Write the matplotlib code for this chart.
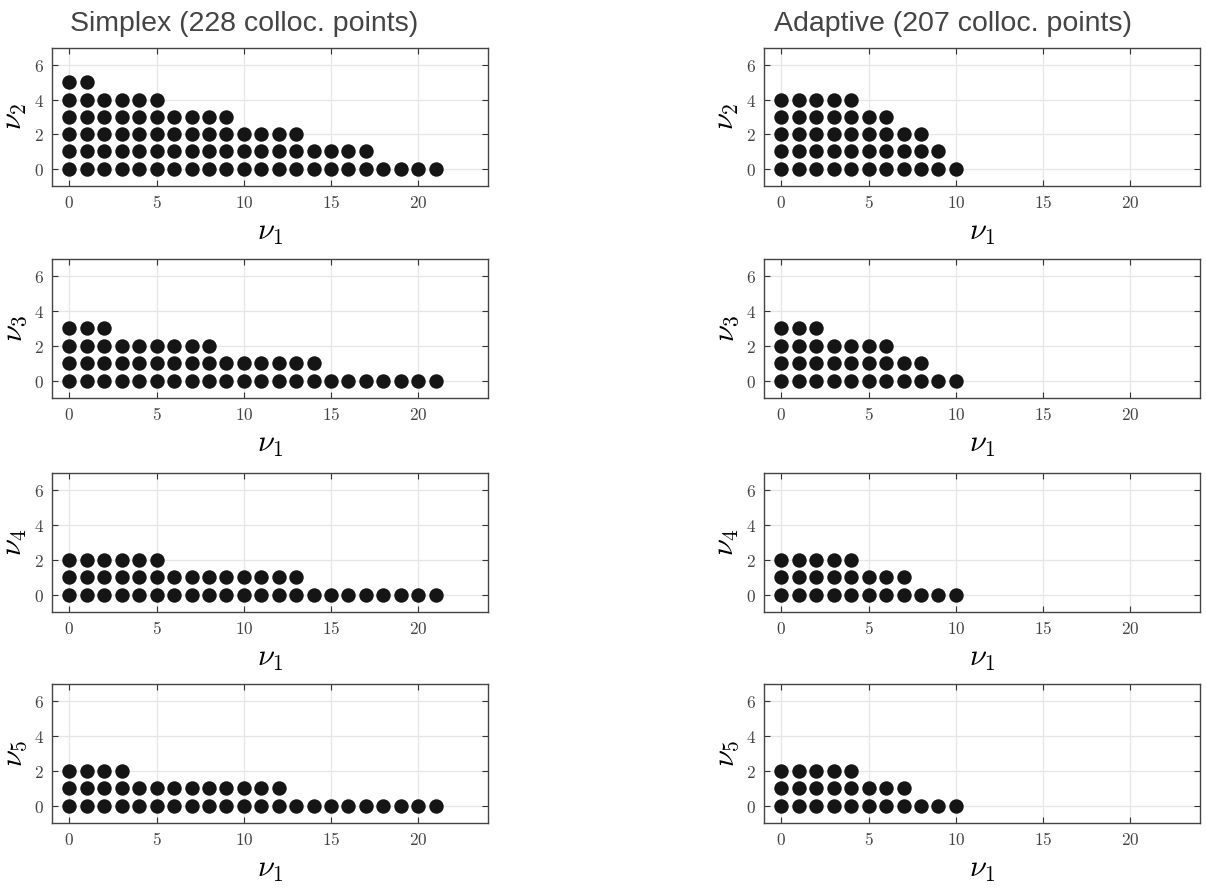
import matplotlib
matplotlib.use("Agg")
import matplotlib.pyplot as plt
from matplotlib.ticker import FuncFormatter
import numpy as np

plt.rcParams["mathtext.fontset"] = "cm"

# Highest index nu_k reached for each value of nu_1 (projection of the multi-index set)
simplex_nu2 = [5, 5, 4, 4, 4, 4, 3, 3, 3, 3, 2, 2, 2, 2, 1, 1, 1, 1, 0, 0, 0, 0]
simplex_nu3 = [3, 3, 3, 2, 2, 2, 2, 2, 2, 1, 1, 1, 1, 1, 1, 0, 0, 0, 0, 0, 0, 0]
simplex_nu4 = [2, 2, 2, 2, 2, 2, 1, 1, 1, 1, 1, 1, 1, 1, 0, 0, 0, 0, 0, 0, 0, 0]
simplex_nu5 = [2, 2, 2, 2, 1, 1, 1, 1, 1, 1, 1, 1, 1, 0, 0, 0, 0, 0, 0, 0, 0, 0]

adaptive_nu2 = [4, 4, 4, 4, 4, 3, 3, 2, 2, 1, 0]
adaptive_nu3 = [3, 3, 3, 2, 2, 2, 2, 1, 1, 0, 0]
adaptive_nu4 = [2, 2, 2, 2, 2, 1, 1, 1, 0, 0, 0]
adaptive_nu5 = [2, 2, 2, 2, 2, 1, 1, 1, 0, 0, 0]

titles = ["Simplex (228 colloc. points)", "Adaptive (207 colloc. points)"]
columns = [[simplex_nu2, simplex_nu3, simplex_nu4, simplex_nu5],
           [adaptive_nu2, adaptive_nu3, adaptive_nu4, adaptive_nu5]]

W, H = 1206, 888
fig = plt.figure(figsize=(W / 100, H / 100), dpi=100)

col_left = [52, 764]
ax_w = 436
rows = [(48, 186), (259, 398), (473, 612), (684, 823)]
title_x = [244, 953]

tick_fmt = FuncFormatter(lambda v, p: r"$%d$" % v)

for c, col in enumerate(columns):
    for r, heights in enumerate(col):
        top, bot = rows[r]
        ax = fig.add_axes([col_left[c] / W, 1 - bot / H, ax_w / W, (bot - top) / H])
        xs, ys = [], []
        for i, h in enumerate(heights):
            for j in range(h + 1):
                xs.append(i)
                ys.append(j)
        ax.scatter(xs, ys, s=108, color="#151515", linewidths=0, zorder=3)

        ax.set_xlim(-1, 24)
        ax.set_ylim(-1, 7)
        ax.set_xticks([0, 5, 10, 15, 20])
        ax.set_yticks([0, 2, 4, 6])
        ax.xaxis.set_major_formatter(tick_fmt)
        ax.yaxis.set_major_formatter(tick_fmt)
        ax.tick_params(direction="in", top=True, right=True, length=4,
                       width=0.8, color="#333333", labelcolor="#444444",
                       labelsize=12.5, pad=6)
        ax.grid(True, color="#e6e6e6", linewidth=0.9, zorder=0)
        ax.set_axisbelow(True)
        for sp in ax.spines.values():
            sp.set_color("#444444")
            sp.set_linewidth(1.0)
        ax.set_xlabel(r"$\nu_1$", fontsize=22, labelpad=4)
        ax.set_ylabel(r"$\nu_%d$" % (r + 2), fontsize=22, labelpad=3)

    fig.text(title_x[c] / W, 1 - 24 / H, titles[c], ha="center", va="center",
             fontsize=20.5, color="#444444", family="Liberation Sans")

plt.savefig("out.png", dpi=100)
